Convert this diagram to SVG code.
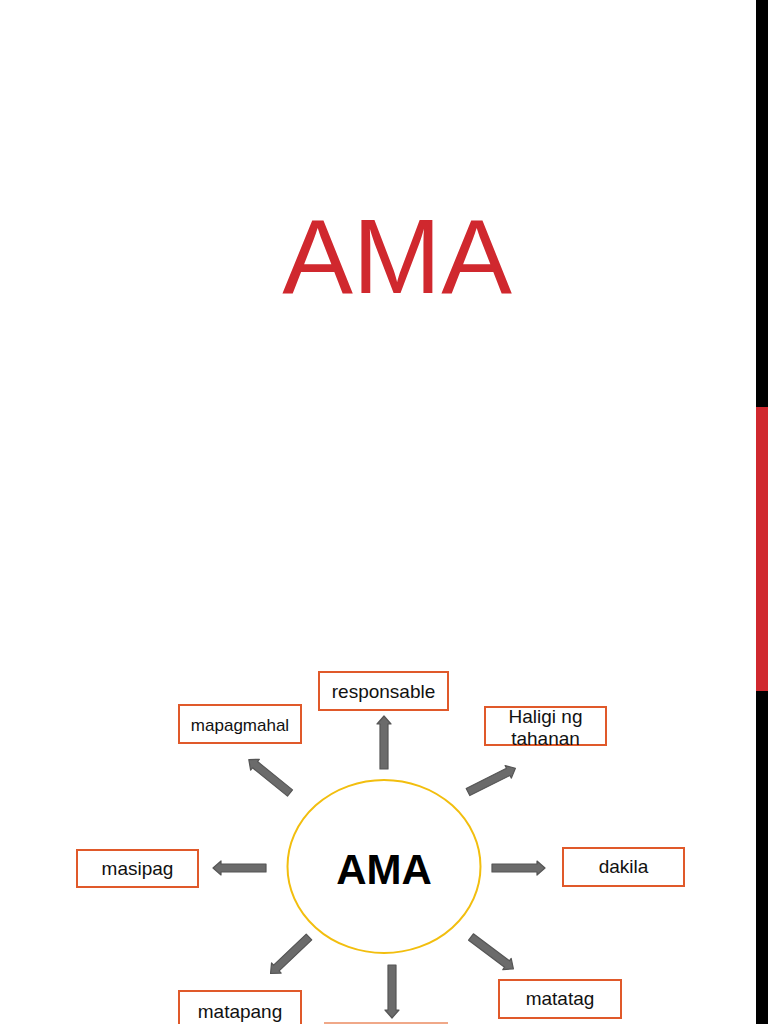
<svg xmlns="http://www.w3.org/2000/svg" width="768" height="1024" viewBox="0 0 768 1024">
<style>
.box{fill:#fff;stroke:#E0592A;stroke-width:2}
.lbl{font-family:"Liberation Sans",Arial,sans-serif;font-size:19px;fill:#111;text-anchor:middle}
.arr{fill:#6b6b6b;stroke:#555;stroke-width:1.2;stroke-linejoin:round}
</style>
<defs>
<path id="ar" d="M0,-4 H45 V-7 L53,0 L45,7 V4 H0 Z"/>
</defs>
<rect width="768" height="1024" fill="#fff"/>
<g id="sidebar">
<rect x="756" y="0" width="12" height="1024" fill="#000"/>
<rect x="756" y="407" width="12" height="284" fill="#D0282E"/>
</g>
<g id="title">
<text x="397" y="293" font-family="Liberation Sans,Arial,sans-serif" font-size="106" fill="#D0282E" text-anchor="middle">AMA</text>
</g>
<g id="connectors">
<use href="#ar" class="arr" transform="translate(384,769) rotate(-90)"/>
<use href="#ar" class="arr" transform="translate(290,793) rotate(-141)"/>
<use href="#ar" class="arr" transform="translate(468,792) rotate(-26.6)"/>
<use href="#ar" class="arr" transform="translate(266,868) rotate(180)"/>
<use href="#ar" class="arr" transform="translate(492,868) rotate(0)"/>
<use href="#ar" class="arr" transform="translate(309,937) rotate(136.5)"/>
<use href="#ar" class="arr" transform="translate(392,965) rotate(90)"/>
<use href="#ar" class="arr" transform="translate(471,937) rotate(36.9)"/>
</g>
<g id="center">
<ellipse cx="384" cy="866.5" rx="96.5" ry="86.5" fill="#fff" stroke="#F2BE0E" stroke-width="2"/>
<text x="384" y="884" font-family="Liberation Sans,Arial,sans-serif" font-size="42" font-weight="bold" fill="#000" text-anchor="middle">AMA</text>
</g>
<g id="responsable">
<rect class="box" x="319" y="672" width="129" height="38"/>
<text class="lbl" x="383.5" y="698">responsable</text>
</g>
<g id="mapagmahal">
<rect class="box" x="179" y="705" width="122" height="38"/>
<text class="lbl" x="240" y="731" style="font-size:17px">mapagmahal</text>
</g>
<g id="haligi">
<rect class="box" x="485" y="707" width="121" height="38"/>
<text class="lbl" x="545.5" y="723">Haligi ng</text>
<text class="lbl" x="545.5" y="745">tahanan</text>
</g>
<g id="masipag">
<rect class="box" x="77" y="850" width="121" height="37"/>
<text class="lbl" x="137.5" y="875">masipag</text>
</g>
<g id="dakila">
<rect class="box" x="563" y="848" width="121" height="38"/>
<text class="lbl" x="623.5" y="873">dakila</text>
</g>
<g id="matapang">
<rect class="box" x="179" y="991" width="122" height="38"/>
<text class="lbl" x="240" y="1018">matapang</text>
</g>
<g id="bottom">
<rect class="box" x="325" y="1023" width="122" height="38" style="stroke:#F0A888"/>
</g>
<g id="matatag">
<rect class="box" x="499" y="980" width="122" height="38"/>
<text class="lbl" x="560" y="1005">matatag</text>
</g>
</svg>
